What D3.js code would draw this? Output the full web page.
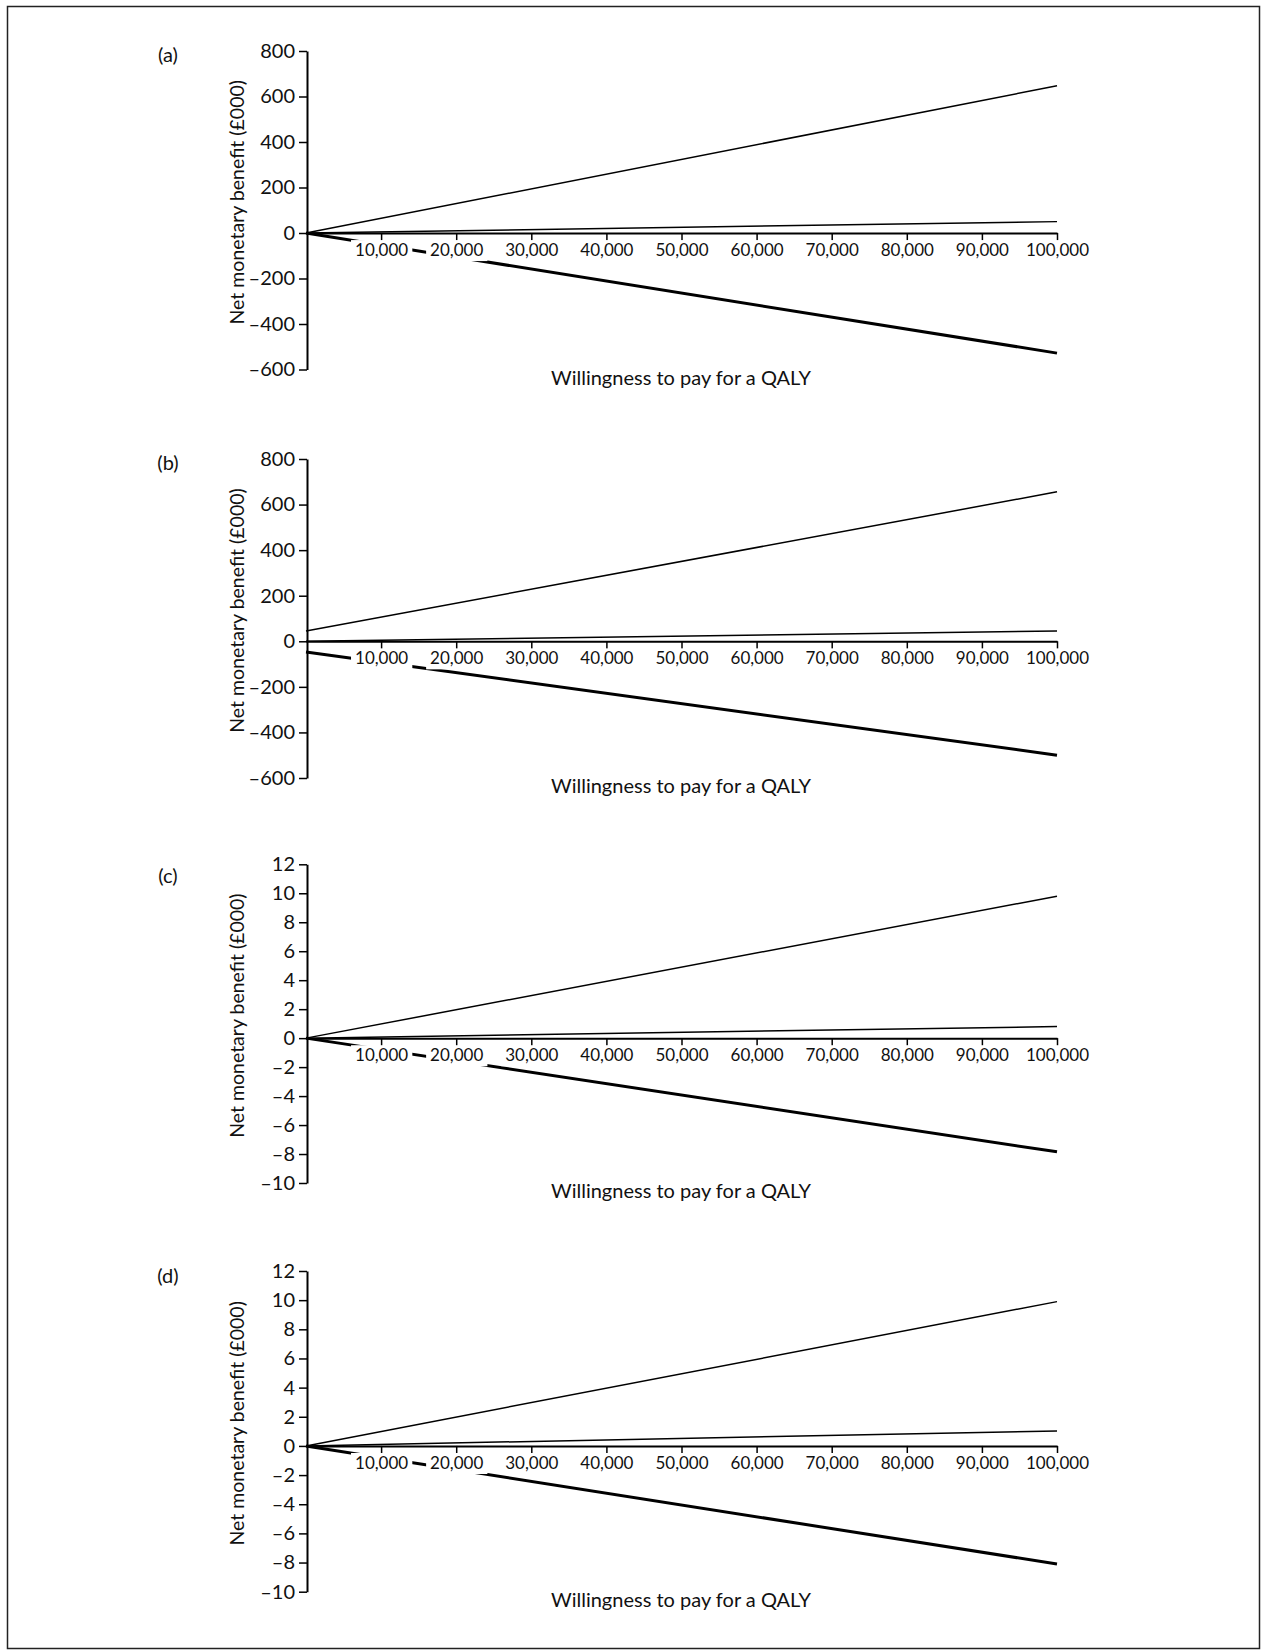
<!DOCTYPE html>
<html>
<head>
<meta charset="utf-8">
<script src="https://cdn.jsdelivr.net/npm/d3@7"></script>
<style>
  html, body { margin: 0; padding: 0; background: #fff; }
  svg { display: block; }
  text { font-family: Lato, "Open Sans", "DejaVu Sans", sans-serif; fill: #111; }
</style>
</head>
<body>
<svg id="chart" width="1261" height="1650"></svg>
<script>
// ---- data ----
const panelLabels = ["(a)", "(b)", "(c)", "(d)"];
const wtp = [0, 100000];
const xTicks = [10000, 20000, 30000, 40000, 50000, 60000, 70000, 80000, 90000, 100000];
const yTicksLarge = [-600, -400, -200, 0, 200, 400, 600, 800];
const yTicksSmall = [-10, -8, -6, -4, -2, 0, 2, 4, 6, 8, 10, 12];

const upperA = [0, 647];
const middleA = [0, 50];
const lowerA = [0, -528];

const upperB = [45, 656];
const middleB = [0, 45];
const lowerB = [-47, -500];

const upperC = [0, 9.8];
const middleC = [0, 0.8];
const lowerC = [0, -7.85];

const upperD = [0, 9.9];
const middleD = [0, 1.03];
const lowerD = [0, -8.1];

const yLabel = "Net monetary benefit (£000)";
const xLabel = "Willingness to pay for a QALY";

// ---- layout ----
const panels = [
  { label: panelLabels[0], ticks: yTicksLarge, series: [upperA, middleA, lowerA], top: 51, bottom: 369.5, labelDy: 4 },
  { label: panelLabels[1], ticks: yTicksLarge, series: [upperB, middleB, lowerB], top: 459, bottom: 778, labelDy: 4 },
  { label: panelLabels[2], ticks: yTicksSmall, series: [upperC, middleC, lowerC], top: 864.3, bottom: 1183, labelDy: 12 },
  { label: panelLabels[3], ticks: yTicksSmall, series: [upperD, middleD, lowerD], top: 1271, bottom: 1591.7, labelDy: 5 }
];
const seriesWidths = [1.5, 1.5, 3];

const svg = d3.select("#chart");

// outer frame
svg.append("rect")
  .attr("x", 7.5).attr("y", 6.5)
  .attr("width", 1252).attr("height", 1642)
  .attr("fill", "none").attr("stroke", "#222").attr("stroke-width", 1.5);

const x = d3.scaleLinear().domain([0, 100000]).range([306, 1057]);
const fmtX = d3.format(",");

panels.forEach(p => {
  const ext = d3.extent(p.ticks);
  const y = d3.scaleLinear().domain(ext).range([p.bottom, p.top]);
  const g = svg.append("g");

  // lines
  const line = d3.line().x((d, i) => x(wtp[i])).y(d => y(d));
  p.series.forEach((s, i) => {
    g.append("path")
      .datum(s)
      .attr("d", line)
      .attr("fill", "none")
      .attr("stroke", "#000")
      .attr("stroke-width", seriesWidths[i]);
  });

  // y axis
  const yAxis = d3.axisLeft(y).tickValues(p.ticks).tickSize(8).tickSizeOuter(0).tickPadding(4)
    .tickFormat(d => d < 0 ? "\u2013" + Math.abs(d) : String(d));
  const ya = g.append("g").attr("transform", `translate(${x(0) + 1},0)`).call(yAxis);
  ya.select(".domain").attr("stroke", "#000").attr("stroke-width", 2);
  ya.selectAll(".tick line").attr("stroke", "#000").attr("stroke-width", 1.5);
  ya.selectAll(".tick text").style("font-size", "20px").attr("fill", "#111");

  // x axis at y=0
  const xAxis = d3.axisBottom(x).tickValues(xTicks).tickSize(8).tickSizeOuter(0).tickPadding(3).tickFormat(fmtX);
  const xa = g.append("g").attr("transform", `translate(0,${y(0)})`).call(xAxis);
  xa.select(".domain").attr("stroke", "#000").attr("stroke-width", 2);
  xa.selectAll(".tick line").attr("stroke", "#000").attr("stroke-width", 1.5);
  xa.selectAll(".tick text").style("font-size", "17px").attr("fill", "#111");
  // white boxes behind x tick labels (mask the lines like the original)
  xa.selectAll(".tick").each(function () {
    const t = d3.select(this).select("text");
    const bb = t.node().getBBox();
    d3.select(this).insert("rect", "text")
      .attr("x", bb.x - 4).attr("y", bb.y + 1)
      .attr("width", bb.width + 8).attr("height", bb.height)
      .attr("fill", "#fff");
  });

  // axis titles
  const mid = (p.top + p.bottom) / 2 - 8;
  g.append("text")
    .attr("transform", `translate(237,${mid}) rotate(-90)`)
    .attr("text-anchor", "middle")
    .attr("dy", "0.35em")
    .style("font-size", "19.5px")
    .text(yLabel);

  g.append("text")
    .attr("x", 681).attr("y", p.bottom + 8)
    .attr("text-anchor", "middle")
    .attr("dy", "0.35em")
    .style("font-size", "20px")
    .text(xLabel);

  g.append("text")
    .attr("x", 168).attr("y", p.top + p.labelDy)
    .attr("text-anchor", "middle")
    .attr("dy", "0.35em")
    .style("font-size", "20px")
    .text(p.label);
});
</script>
</body>
</html>
